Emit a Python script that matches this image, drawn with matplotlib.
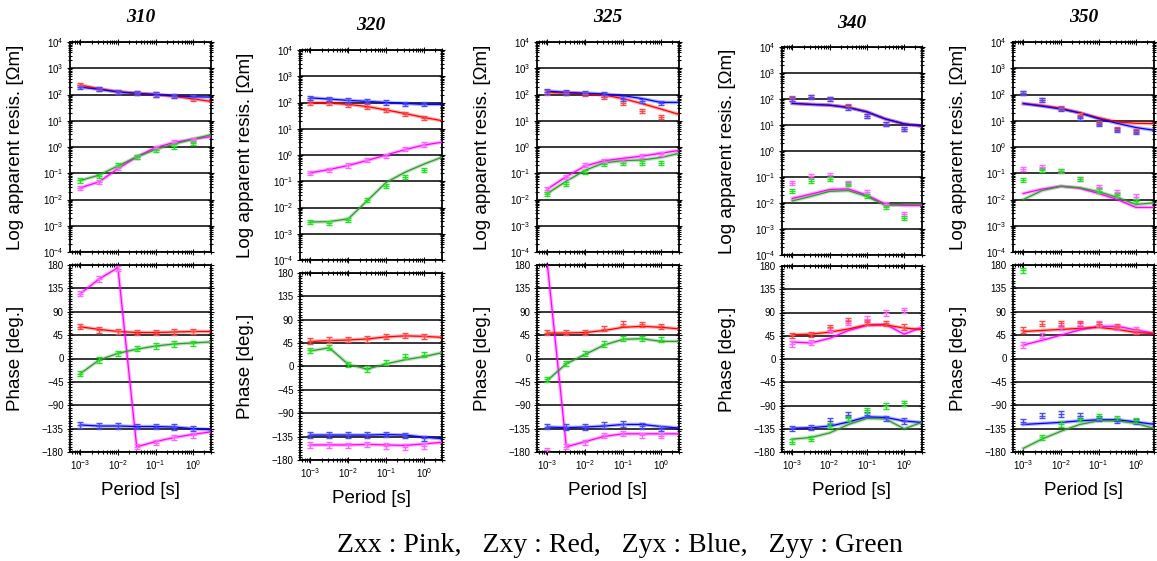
import numpy as np
import matplotlib.pyplot as plt
from matplotlib.ticker import LogLocator, MultipleLocator, NullFormatter, FixedLocator, LogFormatterSciNotation

# station names, components
stations = ["310", "320", "325", "340", "350"]
comps = ["xx", "xy", "yx", "yy"]

period_obs = [1e-3, 3.16e-3, 1e-2, 3.16e-2, 1e-1, 3.16e-1, 1.0]
period_mod = [1e-3, 3.16e-3, 1e-2, 3.16e-2, 1e-1, 3.16e-1, 1.0, 3.16]

# rows: xx, xy, yx, yy
rho_obs_310 = [[0.028, 0.047, 0.16, 0.42, 0.9, 1.6, 1.9],
               [230, 160, 125, 110, 100, 85, 68],
               [190, 160, 125, 110, 100, 85, 80],
               [0.053, 0.08, 0.2, 0.42, 0.75, 1.05, 1.4]]
rho_mod_310 = [[0.028, 0.047, 0.15, 0.42, 0.95, 1.5, 2.0, 2.5],
               [230, 165, 128, 112, 100, 85, 68, 54],
               [190, 158, 125, 110, 100, 88, 82, 80],
               [0.053, 0.085, 0.19, 0.42, 0.8, 1.3, 2.0, 3.0]]
phs_obs_310 = [[125, 153, 173, -170, -162, -152, -148],
               [61, 55, 52, 50, 50, 51, 52],
               [-128, -130, -130, -131, -131, -132, -135],
               [-29, -3, 10, 19, 24, 28, 29]]
phs_mod_310 = [[125, 153, 175, -170, -160, -152, -146, -141],
               [61, 56, 52, 50, 50, 51, 52, 52],
               [-128, -130, -130, -131, -131, -132, -135, -137],
               [-29, -3, 10, 18, 24, 28, 30, 32]]

rho_obs_320 = [[0.21, 0.27, 0.4, 0.63, 0.95, 1.7, 2.5],
               [100, 95, 78, 70, 52, 37, 26],
               [150, 135, 120, 112, 100, 90, 85],
               [0.0028, 0.0026, 0.0033, 0.02, 0.065, 0.14, 0.26]]
rho_mod_320 = [[0.21, 0.28, 0.4, 0.62, 1.0, 1.6, 2.4, 3.1],
               [100, 95, 85, 70, 52, 38, 27, 20],
               [150, 135, 120, 110, 100, 92, 85, 85],
               [0.0028, 0.0029, 0.0037, 0.018, 0.09, 0.22, 0.45, 0.85]]
phs_obs_320 = [[-151, -151, -152, -150, -153, -155, -153],
               [49, 51, 52, 53, 57, 60, 58],
               [-132, -132, -132, -132, -131, -133, -138],
               [31, 36, 4, -5, 7, 19, 23]]
phs_mod_320 = [[-151, -151, -151, -150, -151, -152, -149, -146],
               [48, 50, 51, 53, 57, 59, 58, 56],
               [-132, -132, -132, -132, -131, -132, -136, -139],
               [30, 36, 4, -5, 5, 13, 19, 27]]

rho_obs_325 = [[0.024, 0.072, 0.2, 0.28, 0.3, 0.44, 0.56],
               [120, 115, 105, 82, 47, 23, 13.5],
               [130, 120, 115, 100, 70, 58, 47],
               [0.016, 0.04, 0.11, 0.23, 0.24, 0.24, 0.25]]
rho_mod_325 = [[0.025, 0.075, 0.19, 0.3, 0.37, 0.45, 0.58, 0.75],
               [120, 115, 105, 95, 70, 45, 28, 17],
               [135, 120, 112, 105, 90, 70, 50, 50],
               [0.017, 0.05, 0.13, 0.25, 0.3, 0.32, 0.4, 0.58]]
phs_obs_325 = [[-177, -170, -161, -148, -145, -148, -149],
               [50, 50, 50, 57, 67, 66, 62],
               [-131, -132, -132, -128, -126, -130, -135],
               [-40, -9, 9, 28, 38, 39, 36]]
phs_mod_325 = [[180, -170, -160, -150, -145, -145, -145, -145],
               [49, 49, 50, 54, 60, 62, 60, 57],
               [-132, -133, -132, -130, -127, -127, -131, -134],
               [-42, -10, 8, 26, 37, 38, 33, 33]]

rho_obs_340 = [[0.057, 0.11, 0.12, 0.06, 0.027, 0.0095, 0.0037],
               [105, 118, 100, 52, 22, 11, 6.8],
               [100, 120, 100, 47, 22, 11, 6.8],
               [0.029, 0.072, 0.086, 0.055, 0.019, 0.0072, 0.0026]]
rho_mod_340 = [[0.015, 0.022, 0.033, 0.035, 0.02, 0.009, 0.008, 0.008],
               [68, 62, 58, 48, 32, 17, 11, 9],
               [68, 62, 58, 47, 32, 17, 11, 9],
               [0.012, 0.018, 0.028, 0.03, 0.018, 0.008, 0.009, 0.009]]
phs_obs_340 = [[29, 32, 55, 70, 78, 89, 94],
               [46, 48, 61, 74, 71, 69, 62],
               [-134, -133, -120, -108, -108, -115, -120],
               [-160, -154, -129, -115, -99, -91, -86]]
phs_mod_340 = [[33, 31, 40, 55, 65, 67, 48, 62],
               [47, 48, 52, 58, 66, 66, 60, 57],
               [-134, -133, -130, -122, -112, -113, -120, -123],
               [-155, -152, -143, -127, -115, -116, -135, -122]]

rho_obs_350 = [[0.145, 0.17, 0.125, 0.06, 0.03, 0.019, 0.013],
               [110, 60, 30, 17, 8.5, 5, 4],
               [110, 62, 28, 13, 7.5, 4.5, 3.8],
               [0.055, 0.13, 0.12, 0.06, 0.022, 0.015, 0.0086]]
rho_mod_350 = [[0.017, 0.025, 0.032, 0.027, 0.017, 0.01, 0.005, 0.005],
               [45, 38, 30, 20, 13, 9, 8, 7.8],
               [45, 36, 28, 20, 12, 8, 5.5, 4.3],
               [0.01, 0.022, 0.032, 0.028, 0.02, 0.012, 0.0065, 0.0075]]
phs_obs_350 = [[26, 44, 60, 65, 67, 60, 55],
               [55, 67, 68, 68, 66, 61, 52],
               [-122, -110, -107, -110, -115, -120, -121],
               [170, -152, -126, -116, -112, -115, -119]]
phs_mod_350 = [[26, 35, 45, 55, 62, 62, 55, 48],
               [52, 54, 56, 58, 60, 56, 50, 48],
               [-127, -125, -123, -120, -118, -118, -122, -127],
               [-173, -155, -140, -127, -120, -120, -125, -135]]

rho_obs = [rho_obs_310, rho_obs_320, rho_obs_325, rho_obs_340, rho_obs_350]
rho_mod = [rho_mod_310, rho_mod_320, rho_mod_325, rho_mod_340, rho_mod_350]
phs_obs = [phs_obs_310, phs_obs_320, phs_obs_325, phs_obs_340, phs_obs_350]
phs_mod = [phs_mod_310, phs_mod_320, phs_mod_325, phs_mod_340, phs_mod_350]

caption = "Zxx : Pink,   Zxy : Red,   Zyx : Blue,   Zyy : Green"

line_col = ["#ff00ff", "#ff0000", "#0000ff", "#2f9a2f"]
mark_col = ["#ff66ff", "#ff4a4a", "#4a4aff", "#22e022"]

plt.rcParams['font.family'] = ['Liberation Sans', 'DejaVu Sans']

W, H = 1157, 561
fig = plt.figure(figsize=(W / 100, H / 100), dpi=100)

# pixel boxes: left, right, res top, res bottom, phase top, phase bottom
boxes = [(70, 211, 42, 252, 265, 452),
         (300, 442, 50, 260, 273, 460),
         (537, 679, 42, 252, 265, 452),
         (782, 922, 47, 255, 266, 452),
         (1013, 1154, 42, 252, 265, 452)]


def px(l, r, t, b):
    return [l / W, 1 - b / H, (r - l) / W, (b - t) / H]


def style(ax):
    ax.set_xscale('log')
    ax.set_xlim(5.3e-4, 3.0)
    ax.xaxis.set_major_locator(FixedLocator([1e-3, 1e-2, 1e-1, 1e0]))
    ax.xaxis.set_minor_locator(LogLocator(base=10, subs=np.arange(2, 10), numticks=20))
    ax.xaxis.set_minor_formatter(NullFormatter())
    ax.tick_params(which='both', direction='inout', top=True, right=True,
                   labelsize=7, width=0.8, pad=2)
    ax.tick_params(which='major', length=5)
    ax.tick_params(which='minor', length=3)
    for s in ax.spines.values():
        s.set_linewidth(1.3)
    ax.grid(True, which='major', axis='y', color='black', linewidth=1.1)


def draw(ax, yo, ym, log):
    for k in range(4):
        ax.plot(period_mod, ym[k], color=line_col[k], lw=2.6, alpha=0.3, zorder=3)
        ax.plot(period_mod, ym[k], color=line_col[k], lw=0.9, zorder=4)
        if log:
            y = np.array(yo[k], dtype=float)
            err = [y - y / 1.2, y * 1.2 - y]
        else:
            err = 5
        ax.errorbar(period_obs, yo[k], yerr=err, fmt='_', ms=4, color=mark_col[k],
                    ecolor=mark_col[k], elinewidth=1.0, capsize=2.5, capthick=1.0,
                    zorder=5)


for i, st in enumerate(stations):
    l, r, t, b, pt, pb = boxes[i]

    ax1 = fig.add_axes(px(l, r, t, b))
    style(ax1)
    ax1.set_yscale('log')
    ax1.set_ylim(1e-4, 1e4)
    ax1.yaxis.set_major_locator(LogLocator(base=10, numticks=20))
    ax1.yaxis.set_minor_locator(LogLocator(base=10, subs=np.arange(2, 10), numticks=20))
    ax1.yaxis.set_minor_formatter(NullFormatter())
    ax1.set_xticklabels([])
    draw(ax1, rho_obs[i], rho_mod[i], True)
    ax1.set_ylabel("Log apparent resis. [Ωm]", fontsize=13.5)
    ax1.yaxis.set_label_coords(-46 / (r - l), 0.5)
    ax1.text(0.5, 1 + 24 / (b - t), st, transform=ax1.transAxes, ha='center', va='center',
             fontsize=14, fontweight='bold', fontstyle='italic', family='Liberation Serif')

    ax2 = fig.add_axes(px(l, r, pt, pb))
    style(ax2)
    ax2.set_ylim(-180, 180)
    ax2.yaxis.set_major_locator(MultipleLocator(45))
    ax2.yaxis.set_minor_locator(MultipleLocator(5))
    ax2.xaxis.set_major_formatter(LogFormatterSciNotation())
    draw(ax2, phs_obs[i], phs_mod[i], False)
    ax2.set_ylabel("Phase [deg.]", fontsize=13.5)
    ax2.yaxis.set_label_coords(-46 / (r - l), 0.5)
    ax2.set_xlabel("Period [s]", fontsize=13.5)
    ax2.xaxis.set_label_coords(0.5, -30 / (pb - pt))

fig.text(620 / W, 1 - 545 / H, caption, ha='center', va='center', fontsize=20,
         family='Liberation Serif')

fig.savefig("out.png", dpi=100)
